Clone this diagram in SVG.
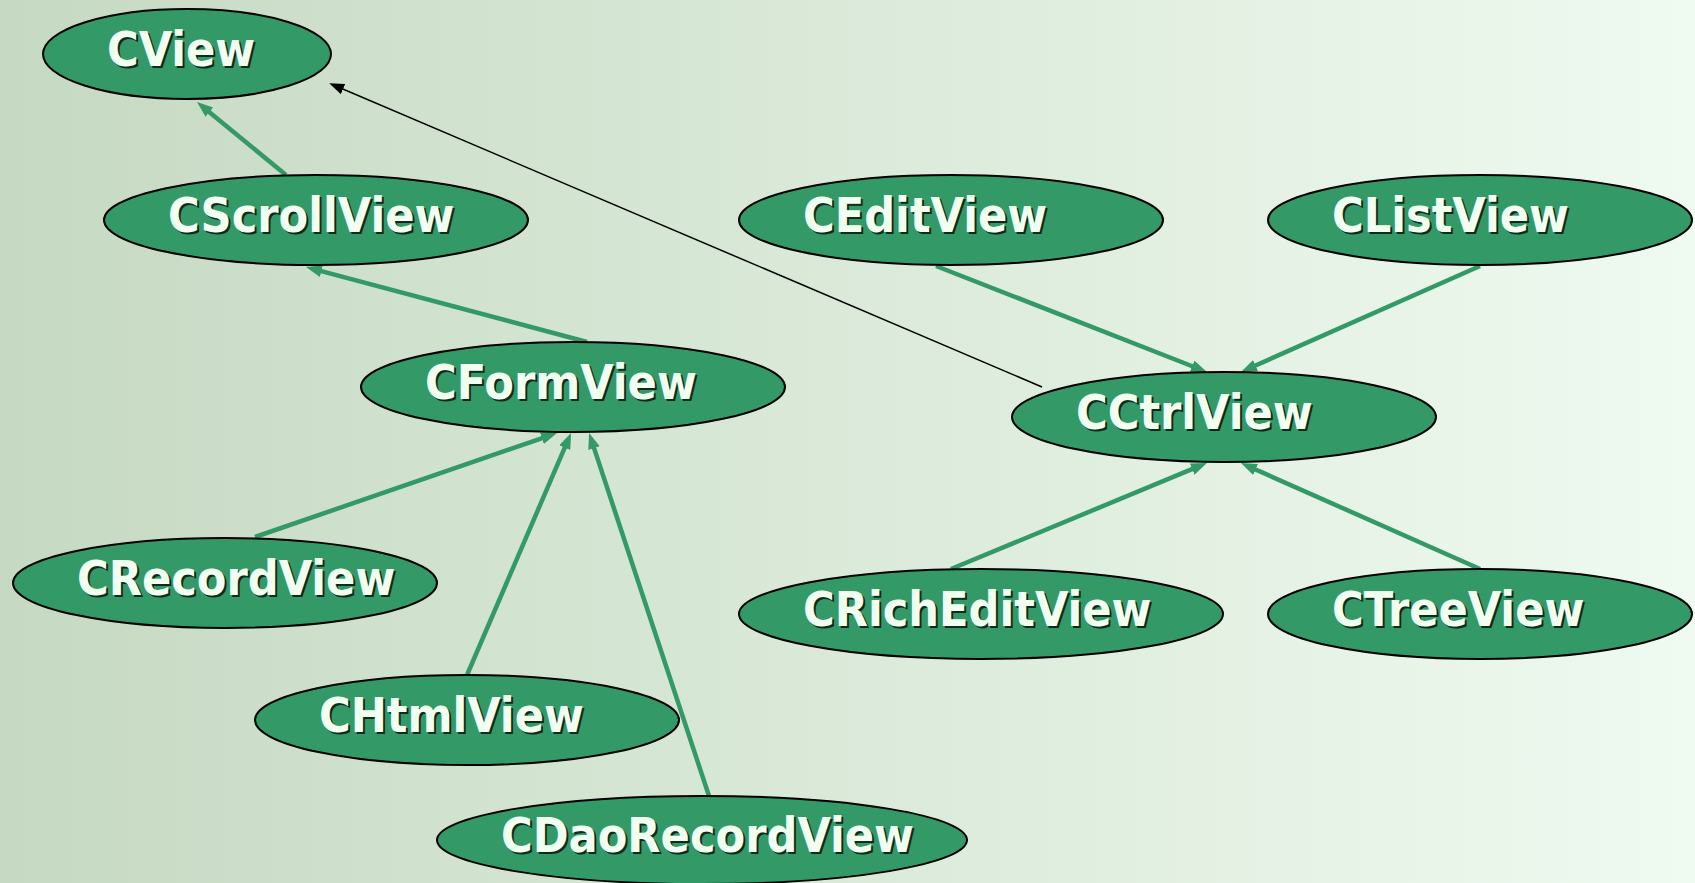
<svg xmlns="http://www.w3.org/2000/svg" width="1695" height="883" viewBox="0 0 1695 883">
<defs>
<linearGradient id="bg" x1="0" y1="0" x2="1" y2="0">
<stop offset="0" stop-color="#c6d9c2"/>
<stop offset="1" stop-color="#effaf0"/>
</linearGradient>
<marker id="ga" markerUnits="userSpaceOnUse" markerWidth="18" markerHeight="14" refX="5" refY="6" orient="auto">
<path d="M0,0 L16,6 L0,12 z" fill="#339966"/>
</marker>
<marker id="ba" markerUnits="userSpaceOnUse" markerWidth="18" markerHeight="14" refX="6" refY="5.5" orient="auto">
<path d="M0,0 L15,5.5 L0,11 z" fill="#000"/>
</marker>
<style>
.n ellipse{fill:#339966;stroke:#000;stroke-width:2}
.n text{font-family:"DejaVu Sans Condensed","DejaVu Sans",sans-serif;font-weight:bold;font-size:48px}
.s{fill:#0d2a1c}
.t{fill:#f0fff0}
.g{stroke:#339966;stroke-width:4.5;fill:none;marker-end:url(#ga)}
.k{stroke:#000;stroke-width:1.5;fill:none;marker-end:url(#ba)}
</style>
</defs>
<rect width="1695" height="883" fill="url(#bg)"/>
<g id="connectors">
<line class="g" x1="286" y1="175" x2="205.5" y2="109"/>
<line class="g" x1="587" y1="342" x2="316.6" y2="269.8"/>
<line class="g" x1="255" y1="537" x2="546.6" y2="436.6"/>
<line class="g" x1="467" y1="675" x2="566.7" y2="443.1"/>
<line class="g" x1="709" y1="796" x2="592.5" y2="443.4"/>
<line class="g" x1="936" y1="266" x2="1196.8" y2="368"/>
<line class="g" x1="1480" y1="266" x2="1251" y2="367.5"/>
<line class="g" x1="951" y1="569" x2="1196.8" y2="467.2"/>
<line class="g" x1="1480" y1="569" x2="1251" y2="467.5"/>
<line class="k" x1="1042" y1="387" x2="337.5" y2="86.8"/>
</g>
<g id="CView" class="n"><ellipse cx="187" cy="54" rx="144" ry="45"/><text class="s" x="109" y="68">CView</text><text class="t" x="107" y="66">CView</text></g>
<g id="CScrollView" class="n"><ellipse cx="316" cy="220" rx="212" ry="45"/><text class="s" x="170" y="234">CScrollView</text><text class="t" x="168" y="232">CScrollView</text></g>
<g id="CFormView" class="n"><ellipse cx="573" cy="387" rx="212" ry="45"/><text class="s" x="427" y="401">CFormView</text><text class="t" x="425" y="399">CFormView</text></g>
<g id="CEditView" class="n"><ellipse cx="951" cy="220" rx="212" ry="45"/><text class="s" x="805" y="234">CEditView</text><text class="t" x="803" y="232">CEditView</text></g>
<g id="CListView" class="n"><ellipse cx="1480" cy="220" rx="212" ry="45"/><text class="s" x="1334" y="234">CListView</text><text class="t" x="1332" y="232">CListView</text></g>
<g id="CCtrlView" class="n"><ellipse cx="1224" cy="417" rx="212" ry="45"/><text class="s" x="1078" y="431">CCtrlView</text><text class="t" x="1076" y="429">CCtrlView</text></g>
<g id="CRecordView" class="n"><ellipse cx="225" cy="583" rx="212" ry="45"/><text class="s" x="79" y="597">CRecordView</text><text class="t" x="77" y="595">CRecordView</text></g>
<g id="CRichEditView" class="n"><ellipse cx="981" cy="614" rx="242" ry="45"/><text class="s" x="805" y="628">CRichEditView</text><text class="t" x="803" y="626">CRichEditView</text></g>
<g id="CTreeView" class="n"><ellipse cx="1480" cy="614" rx="212" ry="45"/><text class="s" x="1334" y="628">CTreeView</text><text class="t" x="1332" y="626">CTreeView</text></g>
<g id="CHtmlView" class="n"><ellipse cx="467" cy="720" rx="212" ry="45"/><text class="s" x="321" y="734">CHtmlView</text><text class="t" x="319" y="732">CHtmlView</text></g>
<g id="CDaoRecordView" class="n"><ellipse cx="702" cy="840" rx="265" ry="44"/><text class="s" x="503" y="854">CDaoRecordView</text><text class="t" x="501" y="852">CDaoRecordView</text></g>
</svg>
